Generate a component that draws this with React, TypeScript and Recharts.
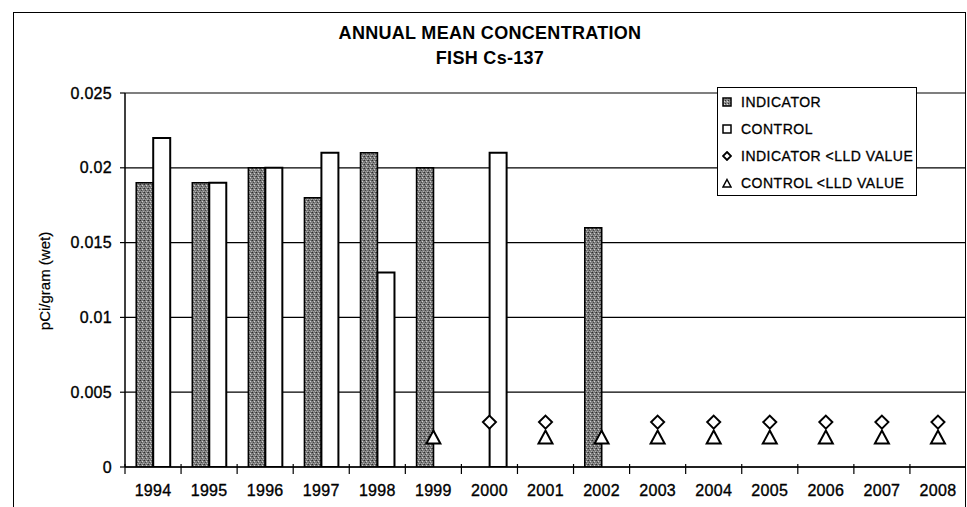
import React from 'react';
import { ComposedChart, Bar, Line, XAxis, YAxis, CartesianGrid, Legend } from 'recharts';

const years = ['1994', '1995', '1996', '1997', '1998', '1999', '2000', '2001', '2002', '2003', '2004', '2005', '2006', '2007', '2008'];
const indicator = [0.019, 0.019, 0.02, 0.018, 0.021, 0.02, null, null, 0.016, null, null, null, null, null, null];
const control = [0.022, 0.019, 0.02, 0.021, 0.013, null, 0.021, null, null, null, null, null, null, null, null];
const indicatorLLD = [null, null, null, null, null, null, 0.003, 0.003, null, 0.003, 0.003, 0.003, 0.003, 0.003, 0.003];
const controlLLD = [null, null, null, null, null, 0.002, null, 0.002, 0.002, 0.002, 0.002, 0.002, 0.002, 0.002, 0.002];
const yTicks = [0, 0.005, 0.01, 0.015, 0.02, 0.025];
const titleLines = ['ANNUAL MEAN CONCENTRATION', 'FISH Cs-137'];
const yLabel = 'pCi/gram (wet)';
const legendItems = ['INDICATOR', 'CONTROL', 'INDICATOR <LLD VALUE', 'CONTROL <LLD VALUE'];

const data = years.map((y, i) => ({
  year: y,
  indicator: indicator[i],
  control: control[i],
  indicatorLLD: indicatorLLD[i],
  controlLLD: controlLLD[i],
}));

const FONT = '"Liberation Sans", Arial, sans-serif';

const Diamond = (props: any) => {
  const { cx, cy, index } = props;
  if (cx == null || cy == null || props.value == null) return <g key={`d${index}`} />;
  const r = 6.5;
  return (
    <path key={`d${index}`} d={`M${cx},${cy - r} L${cx + r},${cy} L${cx},${cy + r} L${cx - r},${cy} Z`}
      fill="#fff" stroke="#000" strokeWidth={2} />
  );
};

const Triangle = (props: any) => {
  const { cx, cy, index } = props;
  if (cx == null || cy == null || props.value == null) return <g key={`t${index}`} />;
  const w = 7, h = 6.5;
  return (
    <path key={`t${index}`} d={`M${cx},${cy - h} L${cx + w},${cy + h} L${cx - w},${cy + h} Z`}
      fill="#fff" stroke="#000" strokeWidth={2} />
  );
};

const XTick = (props: any) => {
  const { x, y, payload } = props;
  const off = payload && payload.offset != null ? payload.offset : 28;
  return (
    <g>
      <line x1={x - off} x2={x - off} y1={y - 3} y2={y + 7} stroke="#000" strokeWidth={1.2} />
      <text x={x} y={y + 29} textAnchor="middle" fontSize={16} fontFamily={FONT} fill="#000"
        stroke="#000" strokeWidth={0.35} letterSpacing={0.3}>
        {payload.value}
      </text>
    </g>
  );
};

const LegendIcon = ({ i }: { i: number }) => {
  if (i === 0) return <svg width={10} height={10}><rect x={1} y={1} width={8} height={8} fill="url(#stippleL)" stroke="#000" strokeWidth={1.5} /></svg>;
  if (i === 1) return <svg width={10} height={10}><rect x={1} y={1} width={8} height={8} fill="#fff" stroke="#000" strokeWidth={1.5} /></svg>;
  if (i === 2) return <svg width={10} height={10}><path d="M5,1 L9,5 L5,9 L1,5 Z" fill="#fff" stroke="#000" strokeWidth={1.8} /></svg>;
  return <svg width={10} height={10}><path d="M5,1.5 L9,9 L1,9 Z" fill="#fff" stroke="#000" strokeWidth={1.5} /></svg>;
};

const renderLegend = () => (
  <div style={{
    width: 200, height: 109, boxSizing: 'border-box', border: '1.5px solid #000', background: '#fff',
    fontFamily: FONT, fontSize: 14, color: '#000', paddingTop: 0, letterSpacing: 0.5,
    WebkitTextStroke: '0.3px #000',
  }}>
    <svg width={0} height={0} style={{ position: 'absolute' }}>
      <defs>
        <pattern id="stippleL" width={3} height={3} patternUnits="userSpaceOnUse">
          <rect width={3} height={3} fill="#8a8a8a" />
          <rect x={0} y={0} width={1} height={1} fill="#333" />
          <rect x={2} y={1} width={1} height={1} fill="#ddd" />
        </pattern>
      </defs>
    </svg>
    {legendItems.map((t, i) => (
      <div key={t} style={{ height: 27, display: 'flex', alignItems: 'center', paddingLeft: 4 }}>
        <LegendIcon i={i} />
        <span style={{ marginLeft: 9, whiteSpace: 'nowrap' }}>{t}</span>
      </div>
    ))}
  </div>
);

export default function App() {
  return (
    <div style={{ position: 'absolute', left: 0, top: 0, width: 967, height: 507, overflow: 'hidden', background: '#fff' }}>
      <div style={{ position: 'absolute', left: 13, top: 12, width: 953, height: 520, border: '1.5px solid #000', borderBottom: 'none', boxSizing: 'border-box' }} />
      <div style={{ position: 'absolute', left: 0, top: 21, width: 980, textAlign: 'center', fontFamily: FONT, fontWeight: 'bold', fontSize: 18, lineHeight: '25px', color: '#000', letterSpacing: 0.3 }}>
        <div>{titleLines[0]}</div>
        <div>{titleLines[1]}</div>
      </div>
      <div style={{ position: 'absolute', left: 44, top: 281, transform: 'translate(-50%, -50%) rotate(-90deg)', fontFamily: FONT, fontSize: 15, whiteSpace: 'nowrap', color: '#000', WebkitTextStroke: '0.2px #000' }}>
        {yLabel}
      </div>
      <div style={{ position: 'absolute', left: 0, top: 0 }}>
        <ComposedChart width={967} height={507} data={data} margin={{ top: 93, right: 1, bottom: 10, left: 65 }}
          barCategoryGap="20%" barGap={0}>
          <defs>
            <pattern id="stipple" width={4} height={4} patternUnits="userSpaceOnUse">
              <rect width={4} height={4} fill="#7c7c7c" />
              <rect x={0} y={0} width={1} height={1} fill="#2e2e2e" />
              <rect x={2} y={1} width={1} height={1} fill="#d0d0d0" />
              <rect x={1} y={2} width={1} height={1} fill="#444" />
              <rect x={3} y={3} width={1} height={1} fill="#b0b0b0" />
              <rect x={3} y={0} width={1} height={1} fill="#555" />
              <rect x={1} y={3} width={1} height={1} fill="#999" />
            </pattern>
          </defs>
          <CartesianGrid vertical={false} stroke="#000" strokeWidth={1.2} />
          <XAxis dataKey="year" height={30} tickSize={0} tickMargin={0} tick={<XTick />} interval={0}
            axisLine={{ stroke: '#000', strokeWidth: 1.5 }} tickLine={false} />
          <YAxis width={60} domain={[0, 0.025]} ticks={yTicks} tickFormatter={(v: number) => String(v)}
            tickSize={5} tickMargin={8} allowDataOverflow
            tick={{ fontSize: 16, fontFamily: FONT, fill: '#000', stroke: '#000', strokeWidth: 0.35, letterSpacing: 0.3 }}
            axisLine={{ stroke: '#000', strokeWidth: 1.5 }} tickLine={{ stroke: '#000', strokeWidth: 1.2 }} />
          <Bar dataKey="indicator" name={legendItems[0]} fill="url(#stipple)" stroke="#000" strokeWidth={1.5} isAnimationActive={false} />
          <Bar dataKey="control" name={legendItems[1]} fill="#fff" stroke="#000" strokeWidth={2} isAnimationActive={false} />
          <Line dataKey="indicatorLLD" name={legendItems[2]} stroke="none" dot={<Diamond />} activeDot={false} isAnimationActive={false} />
          <Line dataKey="controlLLD" name={legendItems[3]} stroke="none" dot={<Triangle />} activeDot={false} isAnimationActive={false} />
          <Legend content={renderLegend} layout="horizontal" align="center" verticalAlign="middle"
            wrapperStyle={{ position: 'absolute', left: 717, top: 87, width: 200, height: 109 }} />
        </ComposedChart>
      </div>
    </div>
  );
}
